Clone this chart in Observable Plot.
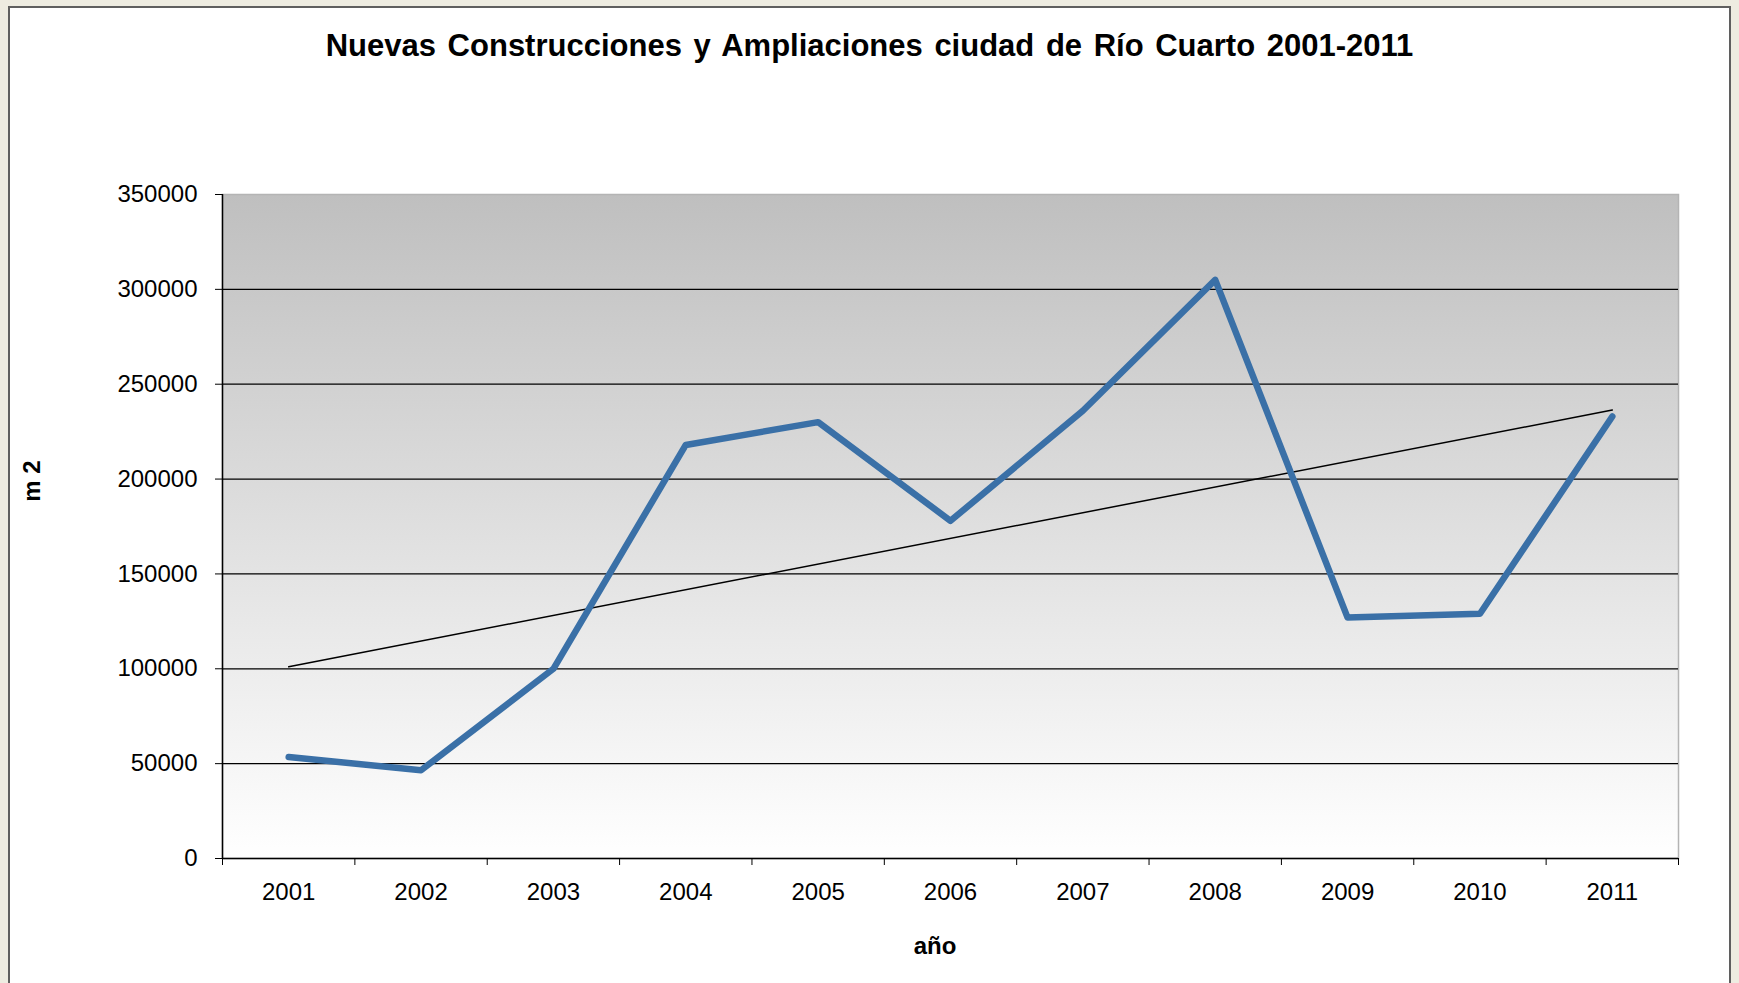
<!DOCTYPE html>
<html>
<head>
<meta charset="utf-8">
<script src="https://cdn.jsdelivr.net/npm/d3@7"></script>
<script src="https://cdn.jsdelivr.net/npm/@observablehq/plot@0.6"></script>
<style>
  html, body { margin: 0; padding: 0; }
  body { background: #EEECE1; width: 1739px; height: 983px; overflow: hidden; position: relative;
         font-family: "Liberation Sans", Arial, sans-serif; }
  #panel { position: absolute; left: 8px; top: 6px; width: 1723px; height: 1010px; background: #fff;
           border: 2px solid #5f5f5f; box-sizing: border-box; }
  #chart { position: absolute; left: 0; top: 0; }
  .lbl { position: absolute; font-weight: bold; color: #000; white-space: nowrap; line-height: 1; }
  #title { left: 0; width: 1739px; text-align: center; top: 30px; font-size: 31px; word-spacing: 3px; }
  #xlabel { left: 835px; width: 200px; text-align: center; top: 934px; font-size: 24px; }
  #ylabel { left: -68px; width: 200px; text-align: center; top: 469px; font-size: 24px; transform: rotate(-90deg); }
</style>
</head>
<body>
<div id="panel"></div>
<div id="chart"></div>
<div id="title" class="lbl">Nuevas Construcciones y Ampliaciones ciudad de Río Cuarto 2001-2011</div>
<div id="ylabel" class="lbl">m 2</div>
<div id="xlabel" class="lbl">año</div>
<script>
// ---- data ----
const years = [2001, 2002, 2003, 2004, 2005, 2006, 2007, 2008, 2009, 2010, 2011];
const values = [53500, 46500, 100000, 218000, 230000, 178000, 236000, 305000, 127000, 129000, 233000];
const yTicks = [0, 50000, 100000, 150000, 200000, 250000, 300000, 350000];
const gridValues = [50000, 100000, 150000, 200000, 250000, 300000];

const data = years.map((yr, i) => ({year: yr, value: values[i]}));
const bounds = years.map(y => y - 0.5).concat([years[years.length - 1] + 0.5]);

const chart = Plot.plot({
  width: 1739,
  height: 983,
  marginLeft: 222,
  marginRight: 61,
  marginTop: 194,
  marginBottom: 125,
  style: {background: "transparent", fontFamily: "'Liberation Sans', Arial, sans-serif", fontSize: "24px", color: "#000"},
  x: {type: "linear", domain: [bounds[0], bounds[bounds.length - 1]], label: null},
  y: {domain: [0, 350000], label: null},
  marks: [
    Plot.frame({fill: "url(#plotBg)", stroke: "#b4b4b4", strokeWidth: 1.5}),
    Plot.ruleY(gridValues, {stroke: "#000", strokeWidth: 1.2}),
    Plot.ruleY([0], {stroke: "#000", strokeWidth: 1.5}),
    Plot.ruleX([bounds[0]], {stroke: "#000", strokeWidth: 1.5}),
    Plot.axisY({ticks: yTicks, tickFormat: d => String(d), tickSize: 7, tickPadding: 18, fontSize: 24, label: null}),
    Plot.axisX({ticks: bounds, tickFormat: () => "", tickSize: 7, label: null}),
    Plot.axisX({ticks: years, tickFormat: d => String(d), tickSize: 0, tickPadding: 24, fontSize: 24, label: null}),
    Plot.linearRegressionY(data, {x: "year", y: "value", stroke: "#000", strokeWidth: 1.5, ci: 0}),
    Plot.line(data, {x: "year", y: "value", stroke: "#3A70A7", strokeWidth: 6.5, strokeLinejoin: "round", strokeLinecap: "round"})
  ]
});

// gradient background for the plot area
const svg = d3.select(chart);
const defs = svg.insert("defs", ":first-child");
const grad = defs.append("linearGradient").attr("id", "plotBg")
  .attr("x1", 0).attr("y1", 0).attr("x2", 0).attr("y2", 1);
grad.append("stop").attr("offset", "0%").attr("stop-color", "#BFBFBF");
grad.append("stop").attr("offset", "100%").attr("stop-color", "#FFFFFF");

document.getElementById("chart").appendChild(chart);
</script>
</body>
</html>
